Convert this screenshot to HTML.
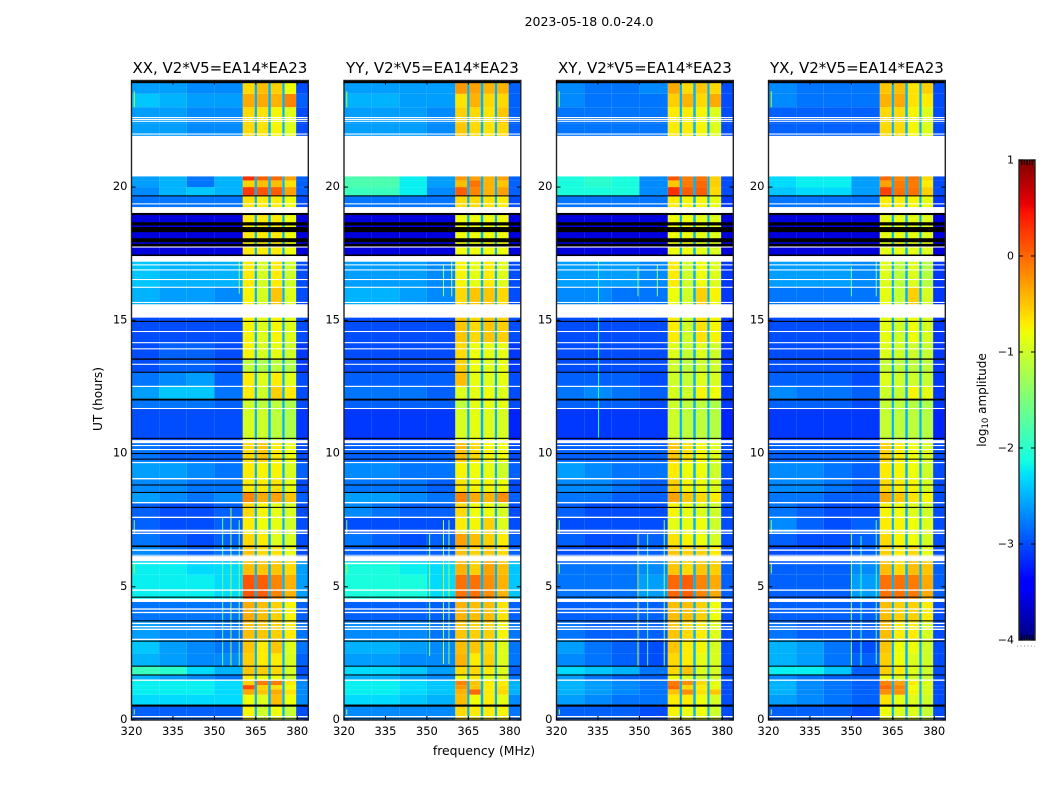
<!DOCTYPE html>
<html lang="en">
<head>
<meta charset="utf-8">
<title>2023-05-18 0.0-24.0</title>
<style>
html,body{margin:0;padding:0;background:#fff;width:1050px;height:800px;overflow:hidden}
svg{display:block}
text{font-family:"DejaVu Sans","Liberation Sans",sans-serif;fill:#000}
</style>
</head>
<body>
<svg id="chart" xmlns="http://www.w3.org/2000/svg" width="1050" height="800" viewBox="0 0 1050 800">
<rect width="1050" height="800" fill="#fff"/>
<text x="589" y="26" font-size="12.5" text-anchor="middle">2023-05-18 0.0-24.0</text>
<text x="484" y="755" font-size="12.4" text-anchor="middle">frequency (MHz)</text>
<text x="102" y="399" font-size="12.2" text-anchor="middle" transform="rotate(-90 102 399)">UT (hours)</text>
<text x="986" y="400" font-size="12" text-anchor="middle" transform="rotate(-90 986 400)">log<tspan font-size="8.5" dy="2">10</tspan><tspan dy="-2"> amplitude</tspan></text>
<g id="panels"></g>
<g id="colorbar"></g>
</svg>
<script>
// UT row boundaries (hours) of the heatmap rows
const timeEdgesUT = [0,.54,.95,1.15,1.31,1.49,1.69,2.02,2.5,3,3.72,4.5,5.45,5.95,6.5,7,7.6,8.15,8.55,9.05,9.7,10.5,11.7,12.05,12.55,13.05,13.55,14.15,15.6,16.24,17.4,19.25,19.67,20,20.25,21.92,22.4,23,23.5,24];
// frequency column boundaries (MHz)
const freqEdgesMHz = [320,330,340,350,360.3,364.6,369.5,374.6,379.6,384];
// gaps between the spectral windows (MHz) and their log10 amplitude
const windowGapsMHz = [[364.6,365.4],[369.5,370.4],[374.6,375.4]];
const windowGapValue = -2.5;
const panelTitles = ["XX, V2*V5=EA14*EA23","YY, V2*V5=EA14*EA23","XY, V2*V5=EA14*EA23","YX, V2*V5=EA14*EA23"];
const xTickLabels = [320,335,350,365,380];
const yTickLabels = [0,5,10,15,20];
const colorbarTicks = [1,0,-1,-2,-3,-4];

// log10 amplitude, one line per UT row, bottom (0 h) to top (24 h)
const valuesXX = [
[-2.9,-2.9,-2.9,-2.9,-.75,-1,-.8,-1.05,-3],
[-2.3,-2.3,-2.3,-2.3,-.8,-.9,-.45,-.8,-2.7],
[-2.2,-2.2,-2.2,-2.3,-.35,-.5,-.35,-.65,-2.7],
[-2.2,-2.2,-2.2,-2.3,.15,-.55,-.65,-.8,-2.7],
[-2.2,-2.2,-2.2,-2.3,-.55,-.1,-.1,-.7,-2.7],
[-2.5,-2.6,-2.7,-2.8,-.7,-.8,-.8,-1,-2.9],
[-1.9,-2,-2.3,-2.5,-.5,-.55,-.6,-.95,-3],
[-2.5,-2.6,-2.7,-2.7,-.55,-.7,-.7,-.95,-2.9],
[-2.4,-2.6,-2.7,-2.8,-.5,-.7,-.5,-.9,-2.8],
[-2.6,-2.7,-2.7,-2.8,-.45,-.5,-.55,-.7,-2.8],
[-2.8,-2.8,-2.8,-2.8,-.35,-.45,-.55,-.75,-2.9],
[-2.2,-2.2,-2.2,-2.3,.1,.05,-.15,-.4,-2.6],
[-2.2,-2.2,-2.3,-2.3,-.45,-.5,-.5,-.6,-2.6],
[-2.7,-2.8,-2.9,-2.8,-.5,-.6,-.65,-.85,-3],
[-2.8,-2.9,-3,-2.9,-.6,-.7,-.9,-.95,-3],
[-2.9,-3,-3,-2.9,-.7,-.8,-.85,-1,-3],
[-2.9,-3,-3,-2.9,-.6,-.75,-.85,-.95,-3],
[-2.6,-2.7,-2.8,-2.7,-.15,-.35,-.3,-.5,-2.9],
[-2.7,-2.7,-2.8,-2.8,-.7,-.7,-.65,-.85,-3],
[-2.6,-2.6,-2.7,-2.8,-.7,-.75,-.75,-.95,-2.9],
[-2.8,-2.9,-2.9,-2.9,-.6,-.5,-.7,-.8,-3],
[-3,-3,-3,-3,-.95,-1,-1.1,-1.2,-3.1],
[-2.8,-2.8,-2.8,-2.9,-1,-1.1,-1.1,-1.2,-3],
[-2.6,-2.4,-2.4,-2.8,-.7,-1,-.55,-.7,-3],
[-2.8,-2.7,-2.6,-2.9,-.7,-.9,-.7,-.9,-3],
[-3,-2.9,-2.9,-3,-1.1,-1.2,-1.1,-1.2,-3.1],
[-3,-2.9,-2.9,-3,-.75,-.95,-.85,-1,-3.1],
[-3,-3,-3,-3,-.75,-.9,-.75,-.9,-3],
[-2.5,-2.6,-2.6,-2.7,-.75,-.95,-.5,-.9,-3],
[-2.4,-2.5,-2.5,-2.5,-.7,-.95,-.7,-1,-3],
[-3.6,-3.6,-3.6,-3.6,-.7,-.7,-.7,-.8,-3.6],
[-2.8,-2.8,-2.8,-2.8,-.65,-.7,-.7,-.8,-3],
[-2.7,-2.5,-2.4,-2.5,.25,.1,.05,-.3,-2.9],
[-2.6,-2.5,-2.8,-2.5,-.55,-.45,-.45,-.65,-2.9],
[-2.6,-2.5,-2.8,-2.5,.3,.05,0,-.3,-2.9],
[-2.6,-2.6,-2.7,-2.7,-.6,-.65,-.75,-.9,-3],
[-2.6,-2.6,-2.7,-2.7,-.6,-.65,-.75,-.9,-3],
[-2.4,-2.5,-2.6,-2.6,-.35,-.35,-.4,-.15,-2.9],
[-2.6,-2.6,-2.7,-2.7,-.6,-.45,-.55,-.8,-3]
];
const valuesYY = [
[-2.7,-2.7,-2.7,-2.7,-.6,-.7,-.7,-.75,-2.8],
[-2.3,-2.3,-2.4,-2.5,-.45,-.8,-.7,-.85,-2.7],
[-2.2,-2.2,-2.3,-2.4,-.4,0,-.7,-.6,-2.5],
[-2.2,-2.2,-2.3,-2.4,-.25,-.5,-.7,-.65,-2.5],
[-2.2,-2.2,-2.3,-2.4,-.15,-.5,-.7,-.7,-2.5],
[-2.5,-2.5,-2.6,-2.7,-.8,-.7,-.9,-.9,-2.8],
[-2.3,-2.3,-2.4,-2.6,-.6,-.6,-.7,-.9,-2.9],
[-2.6,-2.6,-2.7,-2.7,-.4,-.7,-.55,-.9,-2.8],
[-2.5,-2.5,-2.6,-2.7,-.45,-.5,-.6,-.9,-2.8],
[-2.7,-2.7,-2.7,-2.8,-.5,-.55,-.55,-.75,-2.8],
[-2.9,-2.9,-2.9,-2.9,-.4,-.45,-.45,-.65,-2.9],
[-2.1,-2.1,-2.1,-2.3,-.05,-.05,-.2,-.4,-2.4],
[-2.1,-2.1,-2.2,-2.3,-.4,-.55,-.3,-.45,-2.4],
[-2.9,-2.9,-2.9,-2.9,-.45,-.55,-.5,-.6,-2.9],
[-2.8,-2.9,-3,-2.9,-.3,-.45,-.55,-.7,-2.9],
[-3,-3,-3,-3,-.7,-.75,-.55,-.9,-3],
[-2.7,-2.8,-2.9,-2.9,-.6,-.8,-.8,-.95,-3],
[-2.6,-2.6,-2.7,-2.8,-.15,-.35,-.4,-.2,-2.9],
[-2.8,-2.8,-2.8,-2.9,-.65,-.75,-.75,-.8,-3],
[-2.7,-2.7,-2.8,-2.8,-.75,-.8,-.85,-1,-2.9],
[-2.9,-2.9,-2.9,-2.9,-.45,-.6,-.75,-.8,-3],
[-3.1,-3.1,-3.1,-3.1,-.95,-.85,-.9,-.95,-3.2],
[-2.9,-2.9,-2.9,-2.9,-1.1,-.85,-.85,-.85,-3],
[-2.8,-2.8,-2.8,-2.9,-.9,-.85,-.8,-.9,-3],
[-2.9,-2.9,-2.9,-2.9,-.45,-.85,-.9,-.85,-3],
[-3,-3,-3,-3,-.55,-.8,-.9,-.85,-3.1],
[-3,-3,-3,-3,-.6,-.8,-.85,-.85,-3.1],
[-3,-3,-3,-3,-.5,-.6,-.5,-.55,-3],
[-2.5,-2.5,-2.6,-2.7,-.6,-.5,-.5,-.6,-3],
[-2.6,-2.6,-2.6,-2.7,-.75,-.85,-.7,-.9,-3],
[-3.6,-3.6,-3.6,-3.6,-.8,-.8,-.8,-.8,-3.6],
[-2.8,-2.8,-2.8,-2.8,-.6,-.6,-.65,-.7,-3],
[-1.9,-1.9,-2.2,-2.7,.05,-.15,-.4,-.3,-2.9],
[-1.8,-1.8,-2.2,-2.6,-.45,-.05,-.4,-.5,-2.9],
[-1.8,-1.8,-2.2,-2.6,-.25,-.3,-.4,-.3,-2.9],
[-2.6,-2.6,-2.6,-2.7,-.5,-.6,-.65,-.6,-2.9],
[-2.6,-2.6,-2.6,-2.7,-.55,-.6,-.65,-.5,-2.9],
[-2.5,-2.5,-2.6,-2.6,-.65,-.4,-.6,-.6,-2.9],
[-2.6,-2.6,-2.6,-2.6,-.25,-.3,-.4,-.4,-2.9]
];
const valuesXY = [
[-2.9,-2.9,-2.9,-3,-.75,-.8,-.8,-1,-3],
[-2.6,-2.7,-2.8,-2.8,-.7,-.7,-.8,-.95,-3],
[-2.5,-2.6,-2.7,-2.8,-.5,-.2,-.65,-.5,-3],
[-2.5,-2.6,-2.7,-2.8,0,-.6,-.7,-.85,-3],
[-2.5,-2.6,-2.7,-2.8,-.1,-.2,-.6,-.85,-3],
[-2.6,-2.8,-2.9,-2.9,-.8,-.9,-1,-1,-3],
[-2.3,-2.4,-2.5,-2.8,-.6,-.5,-.9,-.95,-3],
[-2.7,-2.8,-2.9,-3,-.6,-.7,-.85,-.95,-3],
[-2.6,-2.8,-2.9,-3,-.5,-.7,-.75,-.95,-3],
[-2.8,-2.9,-2.9,-2.9,-.5,-.6,-.7,-.9,-3],
[-2.9,-2.9,-2.9,-2.9,-.45,-.45,-.55,-.8,-3],
[-2.8,-2.8,-2.8,-2.6,0,.05,-.15,-.35,-2.9],
[-2.8,-2.8,-2.8,-2.7,-.5,-.6,-.5,-.55,-2.9],
[-3,-3,-3,-2.9,-.5,-.55,-.55,-.7,-3],
[-2.9,-3,-3,-2.9,-.65,-.75,-.8,-.95,-3],
[-3,-3,-3,-3,-.85,-.85,-.8,-1,-3],
[-2.9,-3,-3,-3,-.75,-.85,-.9,-1,-3],
[-2.8,-2.8,-2.9,-2.9,-.3,-.5,-.6,-.7,-3],
[-2.7,-2.7,-2.8,-2.9,-.55,-.75,-.8,-.9,-3],
[-2.6,-2.7,-2.8,-2.8,-.7,-.8,-.8,-1,-3],
[-2.9,-2.9,-2.9,-2.9,-.5,-.65,-.75,-.9,-3],
[-3.1,-3.1,-3.1,-3.1,-1,-1.1,-1.1,-1.15,-3.2],
[-2.9,-2.9,-2.9,-3,-1,-1.1,-1.1,-1.2,-3.1],
[-2.8,-2.7,-2.8,-2.9,-.95,-1,-.75,-.8,-3.1],
[-2.9,-2.9,-2.9,-3,-1,-1.05,-.9,-.95,-3.1],
[-3,-3,-3,-3,-1,-1.1,-1,-1,-3.1],
[-3,-3,-3,-3,-.9,-1.05,-.9,-1,-3.1],
[-3,-3,-3,-3,-.7,-1,-.65,-.75,-3.1],
[-2.7,-2.7,-2.8,-2.8,-.8,-1,-.55,-.75,-3.1],
[-2.6,-2.6,-2.6,-2.7,-.7,-1,-.8,-.9,-3.1],
[-3.6,-3.6,-3.6,-3.6,-.8,-.8,-.85,-.9,-3.6],
[-2.8,-2.8,-2.8,-2.8,-.7,-.75,-.75,-.85,-3.1],
[-2.1,-2.1,-2.1,-2.7,.3,.05,.05,-.6,-3],
[-2.1,-2,-2.1,-2.7,-.5,-.1,0,-.55,-3],
[-2.1,-2,-2.1,-2.7,.1,-.1,-.05,-.55,-3],
[-2.8,-2.8,-2.8,-2.8,-.7,-.7,-.75,-.9,-3],
[-2.8,-2.8,-2.8,-2.8,-.7,-.7,-.75,-.9,-3],
[-2.7,-2.8,-2.8,-2.8,-.55,-.4,-.6,-.35,-3],
[-2.7,-2.8,-2.8,-2.7,-.35,-.6,-.5,-.6,-3]
];
const valuesYX = [
[-2.9,-2.9,-2.9,-3,-.8,-.9,-.9,-1.05,-3],
[-2.6,-2.7,-2.8,-2.9,-.65,-.85,-.9,-1,-3],
[-2.5,-2.7,-2.8,-2.9,-.2,-.2,-.75,-.9,-3],
[-2.5,-2.7,-2.8,-2.9,0,-.15,-.8,-.95,-3],
[-2.5,-2.7,-2.8,-2.9,-.15,-.3,-.7,-.9,-3],
[-2.7,-2.8,-2.9,-2.9,-.8,-.9,-1,-1.05,-3],
[-2.2,-2.2,-2.4,-2.9,-.55,-.7,-.9,-1,-3],
[-2.5,-2.6,-2.8,-2.9,-.55,-.8,-.9,-1,-3],
[-2.5,-2.6,-2.8,-3,-.5,-.8,-.8,-1,-3],
[-2.8,-2.9,-2.9,-2.9,-.45,-.7,-.7,-.95,-3],
[-2.9,-2.9,-2.9,-2.9,-.45,-.55,-.55,-.7,-3],
[-2.9,-2.9,-2.9,-2.6,-.05,-.05,-.1,-.35,-2.9],
[-2.9,-2.9,-2.9,-2.7,-.45,-.6,-.45,-.5,-2.9],
[-3,-3,-3,-2.9,-.55,-.7,-.6,-.85,-3],
[-2.9,-3,-3,-2.9,-.6,-.75,-.8,-.95,-3],
[-2.7,-2.9,-3,-2.9,-.7,-.75,-.8,-.9,-3],
[-2.8,-2.9,-3,-3,-.75,-.8,-.9,-1,-3],
[-2.8,-2.8,-2.9,-2.9,-.35,-.5,-.65,-.75,-3],
[-2.7,-2.7,-2.8,-2.9,-.6,-.7,-.75,-.95,-3],
[-2.7,-2.7,-2.8,-2.9,-.7,-.75,-.8,-1,-3],
[-2.9,-2.9,-2.9,-2.9,-.55,-.7,-.8,-.95,-3],
[-3.1,-3.1,-3.1,-3.1,-1.05,-1.1,-1.1,-1.15,-3.2],
[-2.9,-2.9,-2.9,-3,-1.05,-1.1,-1.15,-1.2,-3.1],
[-2.7,-2.8,-2.8,-2.9,-1,-1.05,-.75,-.85,-3.1],
[-2.9,-2.9,-2.9,-3,-.9,-1,-1,-1.05,-3.1],
[-3,-3,-3,-3,-1.05,-1.1,-1.1,-1.1,-3.1],
[-3,-3,-3,-3,-.9,-1,-1,-1.05,-3.1],
[-3,-3,-3,-3,-.85,-1,-.8,-.95,-3.1],
[-2.8,-2.8,-2.8,-2.8,-.85,-1.05,-.55,-.95,-3.1],
[-2.6,-2.6,-2.6,-2.7,-.9,-1.1,-.9,-1.15,-3.1],
[-3.6,-3.6,-3.6,-3.6,-.85,-.85,-.85,-.9,-3.6],
[-2.8,-2.8,-2.8,-2.8,-.7,-.7,-.75,-.85,-3.1],
[-2.4,-2.3,-2.3,-2.6,.2,-.05,-.05,-.55,-3],
[-2.3,-2.2,-2.2,-2.6,-.3,-.1,-.1,-.7,-3],
[-2.3,-2.2,-2.2,-2.6,0,-.15,-.05,-.6,-3],
[-2.9,-2.9,-2.9,-2.9,-.6,-.6,-.75,-.9,-3],
[-2.9,-2.9,-2.9,-2.9,-.6,-.6,-.75,-.9,-3],
[-2.7,-2.8,-2.8,-2.8,-.4,-.35,-.65,-.7,-3],
[-2.7,-2.8,-2.8,-2.8,-.5,-.45,-.65,-.55,-3]
];
const panelValues = [valuesXX,valuesYY,valuesXY,valuesYX];

// fully flagged rows (blank / white) as [startUT,endUT]
const whiteRowsUT = [[.1,.15],[1.47,1.52],[3,3.05],[3.38,3.43],[3.48,3.53],[3.6,3.65],[4.01,4.06],[4.14,4.19],[4.43,4.55],[4.85,4.9],[5.85,5.9],[5.96,6.15],[6.17,6.2],[6.35,6.4],[6.98,7.03],[7.07,7.14],[7.58,7.63],[8.13,8.18],[9.03,9.08],[9.64,9.68],[10.13,10.17],[10.28,10.32],[10.39,10.5],[11.67,11.71],[12.5,12.54],[13.33,13.37],[13.91,13.95],[14.14,14.18],[14.56,14.6],[15.1,15.6],[15.65,15.69],[16.22,16.26],[16.51,16.55],[16.87,16.91],[17.06,17.1],[17.2,17.41],[17.73,17.77],[19.03,19.25],[19.35,19.39],[20.4,21.92],[21.97,22.01],[22.45,22.49],[22.52,22.56],[22.59,22.63]];
// fully dark rows as [startUT,endUT]
const blackRowsUT = [[.05,.08],[.5,.58],[1.67,1.71],[2,2.04],[2.94,2.98],[3.7,3.74],[4.59,4.63],[6.49,6.55],[7.96,8],[8.52,8.56],[8.8,8.84],[9.77,9.81],[9.98,10.02],[10.55,10.59],[11.99,12.06],[13.03,13.07],[13.52,13.57],[14.94,14.98],[17.41,17.47],[17.77,17.87],[17.93,18.08],[18.31,18.5],[18.56,18.68],[18.95,19.03],[19.65,19.69],[23.9,24]];
// narrow RFI columns per panel: [freqMHz,startUT,endUT,log10 amplitude]
const rfiLinesXX = [[321,.2,.4,-1.3],[321,5.5,5.85,-1.2],[321,7,7.5,-1.4],[321,23,23.6,-1.2],[353,2,7.6,-1.6],[356,2,8,-1.2],[359,2,7.5,-1.5],[359,16,17.2,-1.4]];
const rfiLinesYY = [[321,.2,.4,-1.3],[321,5.5,5.85,-1.2],[321,7,7.5,-1.4],[321,23,23.6,-1.2],[351,2.4,7,-1.4],[356,2.1,7.5,-1.1],[358,2.1,7.5,-1.3],[359,15.9,17.2,-1.1],[356,15.9,17.1,-1.3]];
const rfiLinesXY = [[321,.2,.4,-1.3],[321,5.5,5.85,-1.2],[321,7,7.5,-1.4],[321,23,23.6,-1.2],[335.2,10.6,17.4,-2.1],[349.5,2,7,-1.1],[353,2,7,-1.7],[359,2,7.5,-1.3],[356.5,15.9,17.1,-1.4],[349.5,15.9,17,-1.5]];
const rfiLinesYX = [[321,.2,.4,-1.3],[321,5.5,5.85,-1.2],[321,7,7.5,-1.4],[321,23,23.6,-1.2],[350,2,7,-1.3],[353.5,2,6.9,-1.8],[359,2.1,7.5,-1.7],[359,15.9,17.2,-1.5],[350,15.9,17,-1.6]];
const panelRfiLines = [rfiLinesXX,rfiLinesYY,rfiLinesXY,rfiLinesYX];

const SVGNS = "http://www.w3.org/2000/svg";
const panelLefts = [131.5,344,556.5,768.5];
const panelWidth = 176.8, plotTop = 80.5, plotBottom = 720;
const freqMin = 320, freqMax = 384, utMin = 0, utMax = 24;
const cbLeft = 1019, cbRight = 1035, cbTop = 160, cbBottom = 640, cbMin = -4, cbMax = 1;

function xScale(panelIndex, mhz){ return panelLefts[panelIndex] + (mhz-freqMin)/(freqMax-freqMin)*panelWidth; }
function yScale(ut){ return plotBottom - (ut-utMin)/(utMax-utMin)*(plotBottom-plotTop); }
function cbScale(v){ return cbBottom - (v-cbMin)/(cbMax-cbMin)*(cbBottom-cbTop); }
function lerp(stops,t){
  for(let i=1;i<stops.length;i++){
    if(t<=stops[i][0]){
      const a=stops[i-1],b=stops[i];
      return a[1]+(b[1]-a[1])*(t-a[0])/(b[0]-a[0]);
    }
  }
  return stops[stops.length-1][1];
}
const jetR=[[0,0],[.35,0],[.66,1],[.89,1],[1,.5]];
const jetG=[[0,0],[.125,0],[.375,1],[.64,1],[.91,0],[1,0]];
const jetB=[[0,.5],[.11,1],[.34,1],[.65,0],[1,0]];
function jet(v){
  const t=Math.max(0,Math.min(1,(v-cbMin)/(cbMax-cbMin)));
  return "rgb("+Math.round(255*lerp(jetR,t))+","+Math.round(255*lerp(jetG,t))+","+Math.round(255*lerp(jetB,t))+")";
}
function make(tag,attrs,parent){
  const el=document.createElementNS(SVGNS,tag);
  for(const k in attrs){ el.setAttribute(k,attrs[k]); }
  parent.appendChild(el);
  return el;
}
function drawTickLine(parent,x1,y1,x2,y2,name){
  const el=make("line",{x1:x1,y1:y1,x2:x2,y2:y2,stroke:"#000","stroke-width":1},parent);
  
  
}
const panelsRoot=document.getElementById("panels");
panelTitles.forEach(function(title,p){
  const g=make("g",{},panelsRoot);
  
  
  const x0=xScale(p,freqMin), x1=xScale(p,freqMax), y0=yScale(utMax), y1=yScale(utMin);
  const rows=panelValues[p];
  rows.forEach(function(row,r){
    row.forEach(function(v,c){
      const cell=make("rect",{x:xScale(p,freqEdgesMHz[c]),y:yScale(timeEdgesUT[r+1]),width:xScale(p,freqEdgesMHz[c+1])-xScale(p,freqEdgesMHz[c]),height:yScale(timeEdgesUT[r])-yScale(timeEdgesUT[r+1]),fill:jet(v)},g);
      
      
    });
  });
  windowGapsMHz.forEach(function(gap){
    const el=make("rect",{x:xScale(p,gap[0]),y:y0,width:xScale(p,gap[1])-xScale(p,gap[0]),height:y1-y0,fill:jet(windowGapValue)},g);
    
    
  });
  panelRfiLines[p].forEach(function(l){
    const el=make("rect",{x:xScale(p,l[0])-.5,y:yScale(l[2]),width:1,height:yScale(l[1])-yScale(l[2]),fill:jet(l[3])},g);
    
    
  });
  blackRowsUT.forEach(function(b){
    const el=make("rect",{x:x0,y:yScale(b[1]),width:x1-x0,height:yScale(b[0])-yScale(b[1]),fill:"#000"},g);
    
    
  });
  whiteRowsUT.forEach(function(b){
    const el=make("rect",{x:x0,y:yScale(b[1]),width:x1-x0,height:yScale(b[0])-yScale(b[1]),fill:"#fff"},g);
    
    
  });
  const frame=make("rect",{x:x0,y:y0,width:x1-x0,height:y1-y0,fill:"none",stroke:"#222","stroke-width":1.4},g);
  
  
  xTickLabels.forEach(function(v){
    const x=xScale(p,v);
    drawTickLine(g,x,y1,x,y1-4,'x-tick');
    drawTickLine(g,x,y0,x,y0+4,'x-tick-top');
    const t=make("text",{x:x,y:y1+15,"font-size":11.5,"text-anchor":"middle"},g);
    t.textContent=v;
    
    
  });
  yTickLabels.forEach(function(v){
    const y=yScale(v);
    drawTickLine(g,x0,y,x0+4,y,'y-tick');
    drawTickLine(g,x1,y,x1-4,y,'y-tick-right');
    const t=make("text",{x:x0-4,y:y+3,"font-size":11.5,"text-anchor":"end"},g);
    t.textContent=v;
    
    
  });
  const head=make("text",{x:(x0+x1)/2,y:73,"font-size":15,"text-anchor":"middle"},g);
  head.textContent=title;
  
  
});

const cb=document.getElementById("colorbar");
const cbSteps=240;
for(let i=0;i<cbSteps;i++){
  const v0=cbMin+(cbMax-cbMin)*i/cbSteps, v1=cbMin+(cbMax-cbMin)*(i+1)/cbSteps;
  const seg=make("rect",{x:cbLeft,y:cbScale(v1),width:cbRight-cbLeft,height:cbScale(v0)-cbScale(v1)+.3,fill:jet((v0+v1)/2)},cb);
  
  
}
const cbFrame=make("rect",{x:cbLeft,y:cbTop,width:cbRight-cbLeft,height:cbBottom-cbTop,fill:"none",stroke:"#222","stroke-width":1.4},cb);


colorbarTicks.forEach(function(v){
  const y=cbScale(v);
  drawTickLine(cb,cbLeft,y,cbLeft+4,y,'colorbar-tick');
  drawTickLine(cb,cbRight,y,cbRight-4,y,'colorbar-tick-right');
  const t=make("text",{x:cbLeft-5,y:y+3.5,"font-size":11,"text-anchor":"end"},cb);
  t.textContent=(v<0?"\u2212":"")+Math.abs(v);
  
  
});
for(let i=1;i<6;i++){
  const x=cbLeft+i*(cbRight-cbLeft)/6;
  drawTickLine(cb,x,cbTop,x,cbTop+5,'colorbar-minor-tick-top');
  drawTickLine(cb,x,cbBottom,x,cbBottom-5,'colorbar-minor-tick-bottom');
}
const cbDots=make("line",{x1:cbLeft-2,y1:cbBottom+6,x2:cbRight,y2:cbBottom+6,stroke:"#888","stroke-width":1,"stroke-dasharray":"1 2.5"},cb);


</script>
</body>
</html>
